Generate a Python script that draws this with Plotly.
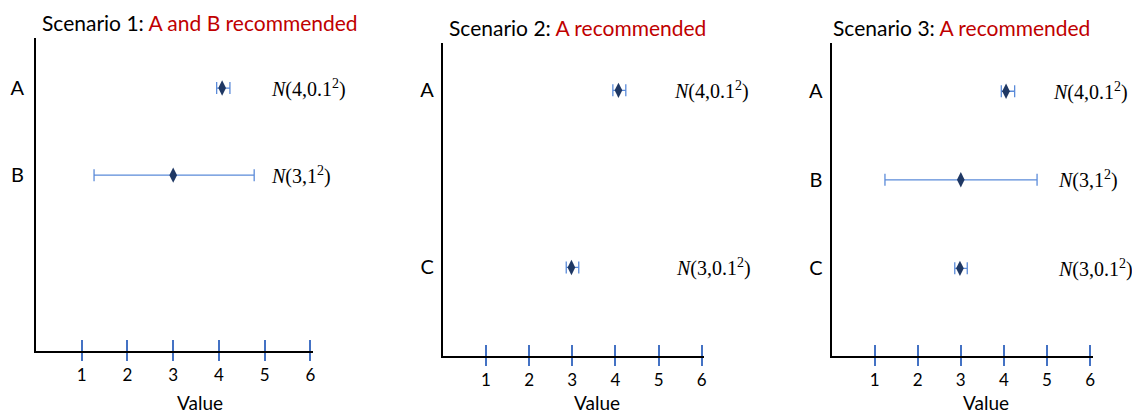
import plotly.graph_objects as go

# ---- data ----
category_order = ["A", "B", "C"]

s1_cats = ["A", "B"]
s1_means = [4.07, 3.0]
s1_err_plus = [0.17, 1.77]
s1_err_minus = [0.12, 1.73]
s1_labels = ["N(4,0.1²)", "N(3,1²)"]

s2_cats = ["A", "C"]
s2_means = [4.07, 2.98]
s2_err_plus = [0.17, 0.17]
s2_err_minus = [0.13, 0.12]
s2_labels = ["N(4,0.1²)", "N(3,0.1²)"]

s3_cats = ["A", "B", "C"]
s3_means = [4.05, 3.0, 2.98]
s3_err_plus = [0.2, 1.77, 0.17]
s3_err_minus = [0.11, 1.76, 0.12]
s3_labels = ["N(4,0.1²)", "N(3,1²)", "N(3,0.1²)"]

titles_black = ["Scenario 1: ", "Scenario 2: ", "Scenario 3: "]
titles_red = ["A and B recommended", "A recommended", "A recommended"]

x_ticks = [1, 2, 3, 4, 5, 6]
x_title = "Value"

scenarios = [
    (s1_cats, s1_means, s1_err_plus, s1_err_minus, s1_labels),
    (s2_cats, s2_means, s2_err_plus, s2_err_minus, s2_labels),
    (s3_cats, s3_means, s3_err_plus, s3_err_minus, s3_labels),
]

# ---- layout geometry (pixels) ----
W, H = 1132, 410
panels = [  # x0, x1, ytop, ybottom
    (36, 311, 38, 351),
    (443.6, 703, 43, 356),
    (833, 1092, 43, 356),
]
XMAX = 6.06
yranges = [[3.02, -0.575], [3.0, -0.535], [2.99, -0.545]]
ystandoff = [6, 3, 3]
title_pos = [(40, 22), (448, 27), (832, 27)]
label_x = [5.1, 5.3, 5.1]
label_dx = [[0, 0], [0, 0.05], [0, 0.1, 0.1]]

fig = go.Figure()
ann = []

def px(x):
    return x / W

def py(y):
    return 1 - y / H

for i, (cats, means, ep, em, labels) in enumerate(scenarios):
    n = i + 1
    xa = "x" if n == 1 else f"x{n}"
    ya = "y" if n == 1 else f"y{n}"
    yvals = [category_order.index(c) for c in cats]
    fig.add_trace(go.Scatter(
        x=means, y=yvals, mode="markers", xaxis=xa, yaxis=ya,
        marker=dict(symbol="diamond-tall", size=11, color="#1F3864",
                    line=dict(width=0)),
        error_x=dict(type="data", array=ep, arrayminus=em, symmetric=False,
                     color="#5B8BD9", thickness=1.3, width=6),
        showlegend=False, hoverinfo="skip",
    ))
    x0, x1, yt, yb = panels[i]
    x1e = x0 + (x1 - x0) * XMAX / 6
    key = "" if n == 1 else str(n)
    fig.layout["xaxis" + key] = dict(
        domain=[px(x0), px(x1e)], anchor=ya, range=[0, XMAX],
        showline=True, linecolor="black", linewidth=2,
        showgrid=False, zeroline=False,
        tickmode="array", tickvals=x_ticks, ticktext=[str(t) for t in x_ticks],
        ticks="inside", ticklen=11, tickwidth=1.5, tickcolor="#4472C4",
        minor=dict(tickmode="array", tickvals=[t - 0.0005 for t in x_ticks],
                   ticks="outside", ticklen=8, tickwidth=1.5, tickcolor="#4472C4"),
        ticklabelstandoff=8,
        tickfont=dict(family="Lato", size=17, color="black"),
        fixedrange=True,
    )
    fig.layout["yaxis" + key] = dict(
        domain=[py(yb), py(yt)], anchor=xa, range=yranges[i],
        showline=True, linecolor="black", linewidth=2,
        showgrid=False, zeroline=False,
        tickmode="array", tickvals=yvals, ticktext=cats,
        ticks="", ticklabelstandoff=ystandoff[i],
        tickfont=dict(family="Lato", size=20, color="black"),
        fixedrange=True,
    )
    for j, (lab, yv) in enumerate(zip(labels, yvals)):
        inner = lab[1:].replace("²", "<sup>2</sup>")
        ann.append(dict(
            x=label_x[i] + label_dx[i][j], y=yv, xref=xa, yref=ya,
            text="<i>N</i>" + inner, showarrow=False,
            xanchor="left", yanchor="middle",
            font=dict(family="Liberation Serif", size=20, color="black"),
        ))
    tx, ty = title_pos[i]
    ann.append(dict(
        x=px(tx), y=py(ty), xref="paper", yref="paper",
        text=titles_black[i] + f"<span style='color:#C00000'>{titles_red[i]}</span>",
        showarrow=False, xanchor="left", yanchor="middle",
        font=dict(family="Lato", size=21, color="black"),
    ))
    ann.append(dict(
        x=3.58, y=py(402), xref=xa, yref="paper", text=x_title,
        showarrow=False, xanchor="center", yanchor="middle",
        font=dict(family="Lato", size=19, color="black"),
    ))

fig.update_layout(
    width=W, height=H, margin=dict(l=0, r=0, t=0, b=0),
    paper_bgcolor="white", plot_bgcolor="white",
    annotations=ann,
)
fig.write_html("out.html", config={"displayModeBar": False},
               post_script="document.body.style.margin='0';")
